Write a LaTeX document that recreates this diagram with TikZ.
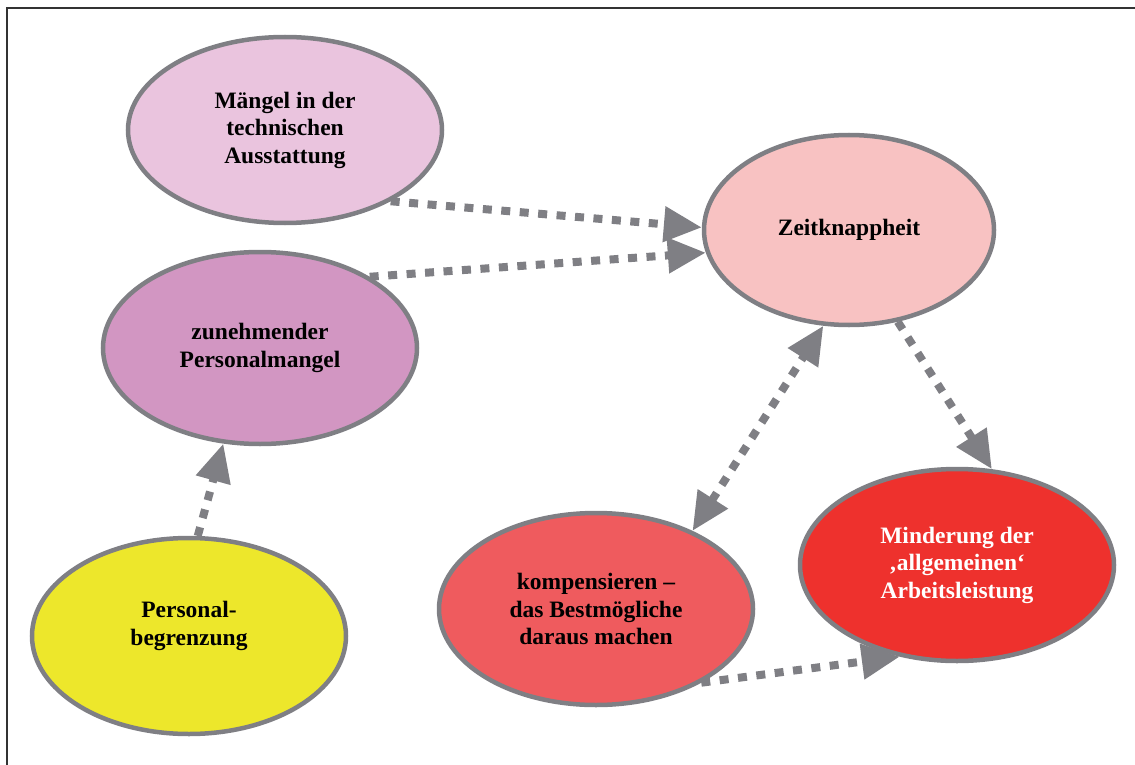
\documentclass[tikz,border=0pt]{standalone}
\usepackage{fontspec}
\setmainfont{Liberation Serif}
\usetikzlibrary{shapes.geometric,arrows.meta}
\definecolor{rim}{HTML}{7F7F84}
\definecolor{cMaengel}{HTML}{EAC4DE}
\definecolor{cPersonal}{HTML}{D296C2}
\definecolor{cBegrenz}{HTML}{EDE72B}
\definecolor{cZeit}{HTML}{F8C2C2}
\definecolor{cKomp}{HTML}{EF5B5E}
\definecolor{cMind}{HTML}{EE312D}
\tikzset{
  bubble/.style={ellipse, draw=rim, line width=4.5pt, inner sep=0pt,
    minimum width=314pt, minimum height=192pt, align=center,
    font=\fontsize{23.5}{27.5}\selectfont\bfseries},
  flow/.style={draw=rim, line width=8pt, dash pattern=on 9pt off 9.5pt,
    -{Triangle[length=38pt,width=34pt]}},
  flowboth/.style={flow, {Triangle[length=38pt,width=34pt]}-{Triangle[length=38pt,width=34pt]}}
}
\begin{document}
\begin{tikzpicture}[x=1pt,y=-1pt]
\useasboundingbox (0,0) rectangle (1135,765);
% frame
\draw[line width=2pt, color=black!80] (7,770) -- (7,8) -- (1140,8);

% bubbles
\node[bubble, fill=cMaengel, minimum height=186pt] (mae) at (285,130) {Mängel in der\\technischen\\Ausstattung};
\node[bubble, fill=cZeit, minimum width=290pt, minimum height=190pt] (zeit) at (849,230) {Zeitknappheit};
\node[bubble, fill=cPersonal] (pers) at (260,348) {zunehmender\\Personalmangel};
\node[bubble, fill=cBegrenz, minimum height=196pt] (begr) at (189,636) {Personal-\\begrenzung\\[-2pt]};
\node[bubble, fill=cKomp] (komp) at (596,609) {kompensieren –\\das Bestmögliche\\daraus machen};
\node[bubble, fill=cMind, text=white] (mind) at (957,565) {Minderung der\\‚allgemeinen‘\\Arbeitsleistung};

% connectors
\draw[flow] (mae.-34) -- (zeit.179);
\draw[flow] (pers.33) -- (zeit.-171);
\draw[flow] (begr.85) -- (pers.-111);
\draw[flowboth] (komp.39) -- (zeit.-105);
\draw[flow] (zeit.-62) -- (mind.70);
\draw[flow] (komp.-35) -- (mind.-122);
\end{tikzpicture}
\end{document}
